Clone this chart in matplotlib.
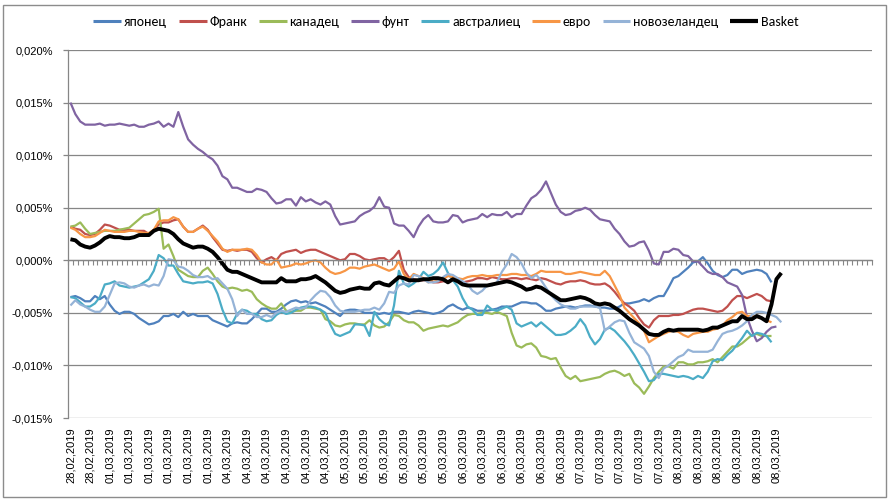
import matplotlib
matplotlib.use("Agg")
import matplotlib.pyplot as plt
from matplotlib import font_manager
from matplotlib.patches import Rectangle
from matplotlib.lines import Line2D
from matplotlib.ticker import FuncFormatter
import numpy as np

# values in units of 0.001 %
names = ["японец", "Франк", "канадец", "фунт", "австралиец", "евро", "новозеландец", "Basket"]

yen = [-3.5,-3.4,-3.6,-3.9,-3.9,-3.4,-3.7,-3.4,-4.2,-4.8,
       -5.1,-4.9,-4.9,-5.1,-5.5,-5.8,-6.1,-6.0,-5.8,-5.3,
       -5.3,-5.1,-5.4,-4.9,-5.3,-5.1,-5.3,-5.3,-5.3,-5.7,
       -5.9,-6.1,-6.3,-6.0,-5.9,-6.0,-6.0,-5.6,-5.1,-4.6,
       -4.6,-4.9,-4.9,-4.6,-4.2,-3.9,-3.8,-4.0,-3.9,-4.1,
       -4.0,-4.2,-4.4,-4.7,-5.0,-5.3,-4.8,-4.7,-4.7,-4.8,
       -5.0,-5.0,-5.0,-5.1,-5.0,-5.1,-4.9,-4.9,-5.0,-5.1,
       -4.9,-4.8,-4.9,-5.0,-5.1,-5.0,-4.8,-4.4,-4.2,-4.5,
       -4.7,-4.5,-4.6,-4.8,-4.8,-4.8,-4.7,-4.6,-4.4,-4.4,
       -4.4,-4.2,-4.0,-4.0,-4.1,-4.1,-4.4,-4.8,-4.8,-4.6,
       -4.5,-4.4,-4.4,-4.5,-4.4,-4.3,-4.3,-4.4,-4.5,-4.5,
       -4.6,-4.6,-4.4,-4.1,-4.1,-4.0,-3.9,-3.7,-3.9,-3.6,
       -3.4,-3.4,-2.6,-1.7,-1.5,-1.1,-0.7,-0.2,-0.1,0.3,
       -0.3,-1.0,-1.4,-1.6,-1.4,-0.9,-0.9,-1.3,-1.1,-1.0,
       -0.9,-1.0,-1.3,-2.1]

franc = [3.2,3.0,2.9,2.5,2.4,2.5,2.9,3.4,3.3,3.1,
         2.9,2.9,2.9,2.8,2.8,2.8,2.5,2.9,3.4,3.6,
         3.6,3.8,3.9,3.2,2.7,2.7,3.0,3.3,2.9,2.2,
         1.6,1.0,0.9,1.0,0.9,1.0,1.0,0.8,0.2,-0.2,
         0.1,0.3,0.0,0.6,0.8,0.9,1.0,0.7,0.9,1.0,
         1.0,0.8,0.6,0.4,0.2,0.0,0.1,0.6,0.6,0.4,
         0.1,0.0,0.1,0.2,0.2,-0.1,0.3,0.9,-0.9,-1.6,
         -1.8,-1.9,-1.9,-1.9,-2.1,-2.1,-2.0,-2.0,-1.8,-2.0,
         -2.1,-2.0,-1.9,-1.7,-1.7,-1.8,-1.6,-1.7,-1.8,-1.8,
         -1.7,-1.7,-1.8,-1.7,-1.8,-1.9,-1.7,-1.8,-2.0,-2.2,
         -2.3,-2.1,-2.0,-2.0,-1.9,-2.0,-2.2,-2.3,-2.3,-2.2,
         -2.5,-3.0,-3.6,-4.1,-4.4,-4.8,-5.5,-6.1,-6.4,-5.7,
         -5.3,-5.3,-5.3,-5.2,-5.2,-5.1,-4.9,-4.7,-4.6,-4.6,
         -4.7,-4.8,-4.9,-4.8,-4.4,-3.8,-3.4,-3.4,-3.6,-3.4,
         -3.2,-3.4,-3.8,-3.9]

cad = [3.2,3.3,3.6,3.0,2.5,2.6,2.7,2.8,2.8,2.8,
       2.9,3.0,3.1,3.5,3.9,4.3,4.4,4.6,4.9,1.1,
       1.5,0.4,-0.9,-1.2,-1.5,-1.6,-1.6,-1.0,-0.7,-1.3,
       -2.0,-2.5,-2.7,-2.6,-2.7,-2.9,-2.8,-3.0,-3.7,-4.1,
       -4.4,-4.6,-4.6,-4.1,-4.8,-4.9,-4.8,-4.8,-4.5,-4.5,
       -4.6,-4.7,-5.6,-5.8,-6.2,-6.3,-6.1,-6.0,-6.0,-6.1,
       -6.1,-5.7,-6.2,-6.4,-6.3,-5.9,-5.2,-5.3,-5.7,-5.9,
       -5.9,-6.2,-6.7,-6.5,-6.4,-6.3,-6.2,-6.3,-6.1,-5.9,
       -5.5,-5.2,-5.1,-5.1,-5.0,-5.0,-5.1,-4.9,-5.1,-5.3,
       -6.9,-8.1,-8.3,-8.0,-7.9,-8.3,-9.1,-9.2,-9.4,-9.3,
       -10.2,-11.0,-11.3,-11.0,-11.5,-11.4,-11.3,-11.2,-11.1,-10.8,
       -10.6,-10.5,-10.7,-11.0,-10.8,-11.7,-12.1,-12.7,-12.0,-11.2,
       -10.6,-10.1,-10.1,-10.3,-9.7,-9.7,-9.9,-9.9,-9.7,-9.7,
       -9.6,-9.4,-9.7,-9.2,-8.7,-8.2,-8.2,-7.9,-7.5,-7.1,
       -7.0,-7.2,-7.2,-7.2]

pound = [15.0,13.9,13.2,12.9,12.9,12.9,13.0,12.8,12.9,12.9,
         13.0,12.9,12.8,12.9,12.7,12.7,12.9,13.0,13.2,12.7,
         13.0,12.7,14.1,12.7,11.5,11.0,10.6,10.3,9.9,9.6,
         9.0,8.0,7.7,6.9,6.9,6.7,6.5,6.5,6.8,6.7,
         6.5,5.9,5.4,5.5,5.8,5.8,5.2,6.0,5.6,5.8,
         5.5,5.3,5.6,5.3,4.2,3.4,3.5,3.6,3.7,4.2,
         4.5,4.7,5.1,6.0,5.1,5.0,3.5,3.3,3.3,2.8,
         2.2,3.2,3.9,4.3,3.7,3.6,3.6,3.7,4.3,4.2,
         3.6,3.8,3.9,4.0,4.4,4.1,4.4,4.3,4.3,4.6,
         4.1,4.4,4.4,5.2,5.9,6.2,6.7,7.5,6.4,5.3,
         4.6,4.3,4.4,4.7,4.8,5.0,4.8,4.3,3.9,3.8,
         3.7,3.0,2.5,1.8,1.3,1.4,1.7,1.8,0.9,-0.3,
         -0.4,0.8,0.8,1.1,1.0,0.5,0.4,-0.1,-0.1,-0.6,
         -1.1,-1.3,-1.3,-1.6,-2.1,-2.3,-2.5,-3.3,-5.4,-6.7,
         -7.7,-7.4,-6.8,-6.4,-6.3]

aud = [-3.5,-3.6,-4.0,-4.4,-4.4,-4.1,-3.5,-2.3,-2.2,-2.0,
       -2.4,-2.5,-2.6,-2.5,-2.4,-2.1,-1.8,-1.0,0.5,0.2,
       -0.5,-0.5,-1.3,-2.0,-2.1,-2.2,-2.1,-2.1,-2.0,-2.2,
       -3.2,-4.7,-5.8,-6.0,-5.1,-4.7,-4.8,-5.1,-5.1,-5.6,
       -5.8,-5.7,-5.2,-4.9,-5.1,-5.0,-4.7,-4.5,-4.4,-4.4,
       -4.5,-4.7,-5.0,-6.1,-7.0,-7.2,-7.0,-6.8,-6.1,-6.1,
       -6.2,-7.2,-4.9,-5.6,-6.0,-6.2,-4.3,-1.0,-2.2,-2.5,
       -2.2,-1.8,-1.1,-1.5,-1.3,-0.9,-0.2,-1.2,-1.9,-2.5,
       -3.6,-4.4,-4.7,-5.2,-5.2,-4.3,-4.7,-4.8,-4.6,-4.4,
       -4.7,-6.0,-6.3,-6.1,-5.9,-6.3,-5.9,-6.3,-6.7,-7.1,
       -7.1,-7.0,-6.7,-6.3,-5.6,-6.2,-7.3,-8.0,-7.5,-6.6,
       -6.4,-6.7,-7.2,-7.7,-8.3,-9.0,-9.8,-10.6,-11.5,-11.4,
       -10.8,-10.8,-10.9,-11.0,-11.1,-11.0,-11.1,-11.3,-11.0,-11.2,
       -10.6,-9.6,-9.4,-9.5,-9.0,-8.6,-8.0,-7.4,-6.7,-7.2,
       -6.9,-7.0,-7.2,-7.8]

euro = [3.1,2.9,2.5,2.2,2.2,2.3,2.6,2.9,2.8,2.7,
        2.7,2.7,2.8,2.8,2.7,2.6,2.6,2.9,3.7,3.8,
        3.8,4.1,3.9,3.2,2.7,2.7,3.0,3.2,2.8,2.3,
        1.8,1.1,0.8,1.0,1.0,1.0,1.1,1.0,0.5,-0.2,
        -0.4,-0.4,0.1,-0.7,-0.6,-0.5,-0.3,-0.4,-0.3,-0.1,
        0.0,-0.2,-0.7,-1.1,-1.3,-1.2,-1.0,-0.7,-0.7,-0.8,
        -0.6,-0.5,-0.4,-0.6,-0.8,-1.0,-0.8,-0.1,-1.3,-1.8,
        -1.3,-1.5,-1.7,-2.1,-1.8,-1.9,-1.8,-1.5,-1.6,-1.7,
        -1.8,-1.6,-1.5,-1.5,-1.4,-1.5,-1.5,-1.4,-1.4,-1.4,
        -1.3,-1.3,-1.4,-1.4,-1.5,-1.3,-1.0,-1.1,-1.1,-1.1,
        -1.1,-1.3,-1.3,-1.2,-1.1,-1.2,-1.3,-1.4,-1.4,-1.0,
        -1.5,-2.4,-3.3,-4.5,-5.0,-5.5,-6.0,-6.7,-7.8,-7.5,
        -7.2,-7.0,-6.8,-6.7,-6.8,-7.1,-7.3,-7.0,-6.9,-6.8,
        -6.8,-6.6,-6.5,-6.2,-5.7,-5.4,-5.0,-4.9,-5.3,-5.3,
        -5.4,-5.5,-5.7,-5.9]

nzd = [-4.3,-3.8,-4.2,-4.4,-4.7,-4.9,-4.9,-4.4,-3.3,-2.2,
       -2.1,-2.2,-2.5,-2.6,-2.4,-2.3,-2.5,-2.3,-2.4,-1.5,
       0.1,0.0,-0.6,-0.7,-1.0,-1.4,-1.6,-1.6,-1.5,-1.8,
       -1.7,-2.2,-2.7,-3.7,-5.3,-4.7,-5.1,-5.1,-5.4,-5.4,
       -5.2,-5.4,-5.0,-4.8,-4.9,-4.7,-4.5,-4.6,-4.5,-3.8,
       -3.3,-2.9,-3.0,-3.5,-4.3,-4.8,-4.9,-4.9,-4.9,-4.8,
       -4.7,-4.7,-4.5,-4.7,-4.1,-3.0,-3.1,-2.4,-2.2,-2.3,
       -1.4,-1.5,-1.8,-2.1,-2.1,-2.0,-1.6,-1.3,-1.4,-1.7,
       -2.0,-2.3,-2.9,-3.2,-2.9,-2.4,-2.4,-2.1,-1.1,-0.4,
       0.6,0.3,-0.3,-1.2,-1.7,-1.4,-1.9,-2.6,-3.3,-3.8,
       -4.2,-4.4,-4.6,-4.6,-4.4,-4.4,-4.4,-4.4,-4.5,-6.7,
       -6.3,-5.9,-5.7,-5.8,-6.9,-7.8,-8.1,-8.4,-9.1,-10.6,
       -11.2,-10.3,-10.0,-9.6,-9.2,-9.0,-8.5,-8.7,-8.7,-8.7,
       -8.7,-8.5,-7.7,-7.0,-6.8,-6.7,-6.5,-6.2,-5.8,-5.2,
       -4.9,-4.9,-5.0,-5.2,-5.4,-5.9]

basket = [2.0,1.9,1.5,1.3,1.2,1.4,1.7,2.1,2.3,2.2,
          2.2,2.1,2.1,2.2,2.4,2.4,2.4,2.8,3.0,2.9,
          2.8,2.5,2.0,1.6,1.4,1.2,1.3,1.3,1.1,0.8,
          0.3,-0.3,-0.9,-1.1,-1.1,-1.3,-1.5,-1.7,-1.9,-2.1,
          -2.1,-2.1,-2.1,-1.7,-2.0,-2.0,-2.0,-1.8,-1.8,-1.7,
          -1.5,-1.8,-2.1,-2.5,-2.9,-3.1,-3.0,-2.8,-2.7,-2.6,
          -2.7,-2.7,-2.2,-2.1,-2.3,-2.4,-2.0,-1.6,-1.7,-1.9,
          -1.9,-1.9,-1.8,-1.8,-1.7,-1.7,-1.8,-2.1,-1.8,-2.0,
          -2.3,-2.4,-2.4,-2.4,-2.4,-2.4,-2.3,-2.2,-2.1,-2.0,
          -2.1,-2.3,-2.5,-2.8,-2.7,-2.5,-2.6,-2.9,-3.2,-3.5,
          -3.8,-3.8,-3.7,-3.6,-3.5,-3.6,-3.8,-4.1,-4.2,-4.1,
          -4.2,-4.5,-4.8,-5.2,-5.6,-5.9,-6.2,-6.6,-7.0,-7.1,
          -7.1,-6.8,-6.6,-6.7,-6.6,-6.6,-6.6,-6.6,-6.6,-6.7,
          -6.6,-6.4,-6.4,-6.2,-6.0,-5.8,-5.8,-5.3,-5.6,-5.6,
          -5.3,-5.5,-5.8,-4.2,-1.8,-1.2]

date_labels = (["28,02,2019"] * 2 + ["01,03,2019"] * 6 + ["04,03,2019"] * 6 +
               ["05,03,2019"] * 6 + ["06,03,2019"] * 6 + ["07,03,2019"] * 5 +
               ["08,03,2019"] * 6)
label_every = 4
n_categories = 164

series = [yen, franc, cad, pound, aud, euro, nzd, basket]
colors = ["#4F81BD", "#C0504D", "#9BBB59", "#8064A2", "#4BACC6", "#F79646", "#95B3D7", "#000000"]
widths = [1.6, 1.6, 1.6, 1.6, 1.6, 1.6, 1.6, 2.8]

avail = {f.name for f in font_manager.fontManager.ttflist}
tick_font = "Liberation Sans" if "Liberation Sans" in avail else "DejaVu Sans"
if "Carlito" in avail:
    leg_font, leg_size = "Carlito", 10
else:
    leg_font, leg_size = tick_font, 9

plt.rcParams["font.family"] = [tick_font, "DejaVu Sans"]

W, H = 891, 500
fig = plt.figure(figsize=(W / 100, H / 100), dpi=100)
fig.patch.set_facecolor("white")
ax = fig.add_axes([68 / W, 1 - 418 / H, (872 - 68) / W, (418 - 50) / H])

grey = "#868686"
for vals, c, lw in zip(series, colors, widths):
    ax.plot(np.arange(len(vals)), vals, color=c, lw=lw, solid_joinstyle="round",
            solid_capstyle="butt")

ax.set_xlim(-0.5, n_categories - 0.5)
ax.set_ylim(-15, 20)
ax.set_yticks(np.arange(-15, 21, 5))
ax.yaxis.set_major_formatter(FuncFormatter(lambda v, p: f"{v / 1000:.3f}%".replace(".", ",")))
ax.yaxis.grid(True, color=grey, lw=0.9)
ax.set_axisbelow(True)
ax.tick_params(axis="y", direction="out", length=3.5, width=0.9, color=grey,
               labelsize=8, pad=7.5, labelcolor="#000000")

for s in ["top", "right"]:
    ax.spines[s].set_visible(False)
ax.spines["left"].set_color(grey)
ax.spines["left"].set_linewidth(0.9)
ax.spines["bottom"].set_position(("data", 0))
ax.spines["bottom"].set_color(grey)
ax.spines["bottom"].set_linewidth(0.9)
ax.set_xticks(np.arange(n_categories + 1) - 0.5)
ax.set_xticklabels([])
ax.tick_params(axis="x", direction="out", length=3.5, width=0.8, color=grey)

sec = ax.secondary_xaxis("bottom")
pos = np.arange(len(date_labels)) * label_every
sec.set_xticks(pos)
sec.set_xticklabels(date_labels, rotation=90, fontsize=8)
sec.tick_params(length=0, pad=7)
sec.spines["bottom"].set_visible(False)

handles = [Line2D([], [], color=c, lw=(2.2 if c != "#000000" else 3.0), solid_capstyle="butt")
           for c in colors]
fig.legend(handles, names, loc="center", bbox_to_anchor=(446 / W, 1 - 22 / H), ncol=8,
           frameon=False, handlelength=2.0, handletextpad=0.2, columnspacing=0.85,
           prop={"family": [leg_font, "DejaVu Sans"], "size": leg_size})

fig.patches.append(Rectangle((3 / W, 1 - 497 / H), 883 / W, 492 / H, transform=fig.transFigure,
                             fill=False, edgecolor="#8c8c8c", lw=1.0))

fig.savefig("out.png", dpi=100, facecolor="white")
